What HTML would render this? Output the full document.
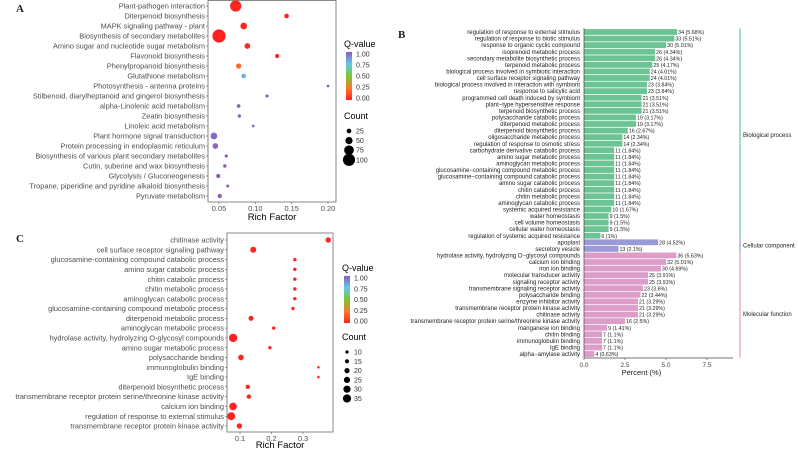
<!DOCTYPE html>
<html><head><meta charset="utf-8"><style>
body{margin:0;background:#fff}
svg{display:block;font-family:"Liberation Sans",sans-serif}
</style></head><body>
<svg id="fig" width="798" height="449" viewBox="0 0 798 449" xmlns="http://www.w3.org/2000/svg">
<g id="A"></g>
<g id="B"></g>
<g id="C"></g>
</svg>
<script>
// Panel A data
const aTerms=["Plant-pathogen interaction","Diterpenoid biosynthesis","MAPK signaling pathway - plant","Biosynthesis of secondary metabolites","Amino sugar and nucleotide sugar metabolism","Flavonoid biosynthesis","Phenylpropanoid biosynthesis","Glutathione metabolism","Photosynthesis - antenna proteins","Stilbenoid, diarylheptanoid and gingerol biosynthesis","alpha-Linolenic acid metabolism","Zeatin biosynthesis","Linoleic acid metabolism","Plant hormone signal transduction","Protein processing in endoplasmic reticulum","Biosynthesis of various plant secondary metabolites","Cutin, suberine and wax biosynthesis","Glycolysis / Gluconeogenesis","Tropane, piperidine and pyridine alkaloid biosynthesis","Pyruvate metabolism"];
const aRich=[0.073,0.143,0.084,0.05,0.089,0.13,0.077,0.084,0.2,0.116,0.077,0.078,0.097,0.043,0.045,0.06,0.058,0.049,0.062,0.051];
const aQ=[0.01,0.01,0.01,0.0,0.02,0.02,0.2,0.8,1,0.98,0.98,0.98,1,0.97,0.97,1,1,1,1,1];
const aCount=[90,25,45,110,35,20,30,25,5,10,15,12,5,45,35,10,12,20,8,20];
const aTicks=[0.05,0.10,0.15,0.20];
const aSizeLegend=[25,50,75,100];
// Panel C data
const cTerms=["chitinase activity","cell surface receptor signaling pathway","glucosamine-containing compound catabolic process","amino sugar catabolic process","chitin catabolic process","chitin metabolic process","aminoglycan catabolic process","glucosamine-containing compound metabolic process","diterpenoid metabolic process","aminoglycan metabolic process","hydrolase activity, hydrolyzing O-glycosyl compounds","amino sugar metabolic process","polysaccharide binding","immunoglobulin binding","IgE binding","diterpenoid biosynthetic process","transmembrane receptor protein serine/threonine kinase activity","calcium ion binding","regulation of response to external stimulus","transmembrane receptor protein kinase activity"];
const cRich=[0.38,0.142,0.274,0.274,0.274,0.274,0.274,0.268,0.135,0.207,0.078,0.195,0.103,0.349,0.349,0.125,0.128,0.078,0.072,0.098];
const cQ=[0.01,0.01,0.01,0.01,0.01,0.01,0.01,0.01,0.01,0.01,0.0,0.01,0.01,0.02,0.02,0.01,0.01,0.0,0.0,0.01];
const cCount=[21,24,11,11,11,11,11,11,19,11,36,11,22,7,7,16,16,32,34,21];
const cTicks=[0.1,0.2,0.3];
const cSizeLegend=[10,15,20,25,30,35];
// Panel B data
const bTerms=["regulation of response to external stimulus","regulation of response to biotic stimulus","response to organic cyclic compound","isoprenoid metabolic process","secondary metabolite biosynthetic process","terpenoid metabolic process","biological process involved in symbiotic interaction","cell surface receptor signaling pathway","biological process involved in interaction with symbiont","response to salicylic acid","programmed cell death induced by symbiont","plant\u2212type hypersensitive response","terpenoid biosynthetic process","polysaccharide catabolic process","diterpenoid metabolic process","diterpenoid biosynthetic process","oligosaccharide metabolic process","regulation of response to osmotic stress","carbohydrate derivative catabolic process","amino sugar metabolic process","aminoglycan metabolic process","glucosamine\u2212containing compound metabolic process","glucosamine\u2212containing compound catabolic process","amino sugar catabolic process","chitin catabolic process","chitin metabolic process","aminoglycan catabolic process","systemic acquired resistance","water homeostasis","cell volume homeostasis","cellular water homeostasis","regulation of systemic acquired resistance","apoplast","secretory vesicle","hydrolase activity, hydrolyzing O\u2212glycosyl compounds","calcium ion binding","iron ion binding","molecular transducer activity","signaling receptor activity","transmembrane signaling receptor activity","polysaccharide binding","enzyme inhibitor activity","transmembrane receptor protein kinase activity","chitinase activity","transmembrane receptor protein serine/threonine kinase activity","manganese ion binding","chitin binding","immunoglobulin binding","IgE binding","alpha\u2212amylase activity"];
const bCount=[34,33,30,26,26,25,24,24,23,23,21,21,21,19,19,16,14,14,11,11,11,11,11,11,11,11,11,10,9,9,9,6,28,13,36,32,30,25,25,23,22,21,21,21,16,9,7,7,7,4];
const bPct=["5.68","5.51","5.01","4.34","4.34","4.17","4.01","4.01","3.84","3.84","3.51","3.51","3.51","3.17","3.17","2.67","2.34","2.34","1.84","1.84","1.84","1.84","1.84","1.84","1.84","1.84","1.84","1.67","1.5","1.5","1.5","1","4.52","2.1","5.63","5.01","4.69","3.91","3.91","3.6","3.44","3.29","3.29","3.29","2.5","1.41","1.1","1.1","1.1","0.63"];
const bGroup=["BP","BP","BP","BP","BP","BP","BP","BP","BP","BP","BP","BP","BP","BP","BP","BP","BP","BP","BP","BP","BP","BP","BP","BP","BP","BP","BP","BP","BP","BP","BP","BP","CC","CC","MF","MF","MF","MF","MF","MF","MF","MF","MF","MF","MF","MF","MF","MF","MF","MF"];
const bTicks=[0,2.5,5,7.5];
const bTickLabels=["0.0","2.5","5.0","7.5"];
const groupNames={BP:"Biological process",CC:"Cellular component",MF:"Molecular function"};

const NS="http://www.w3.org/2000/svg";
function mk(parent,tag,attrs,text){const e=document.createElementNS(NS,tag);for(const k in attrs)e.setAttribute(k,attrs[k]);if(text!==undefined)e.textContent=text;parent.appendChild(e);return e;}
const stops=[[0,[255,34,30]],[0.25,[250,120,50]],[0.5,[120,200,50]],[0.75,[100,200,230]],[1,[140,90,190]]];
function qcol(q){for(let i=1;i<stops.length;i++){if(q<=stops[i][0]){const t=(q-stops[i-1][0])/(stops[i][0]-stops[i-1][0]);const a=stops[i-1][1],b=stops[i][1];return `rgb(${a.map((v,j)=>Math.round(v+(b[j]-v)*t)).join(',')})`;}}return 'rgb(140,90,190)';}

function dotPanel(g,opt){
  const {terms,rich,q,count,ticks,x0,x1,r0,r1,box,rowTop,rowBot,rfn,leg}=opt;
  const xs=v=>x0+(v-r0)*(x1-x0)/(r1-r0);
  const ys=i=>rowTop+i*(rowBot-rowTop)/(terms.length-1);
  let e=mk(g,'rect',{x:box[0],y:box[1],width:box[2]-box[0],height:box[3]-box[1],fill:'#fff',stroke:'#888','stroke-width':1});
  
  terms.forEach((t,i)=>{
    e=mk(g,'text',{x:box[0]-3,y:ys(i)+2.6,'text-anchor':'end','font-size':7.4,fill:'#4d4d4d'},t);
    
    e=mk(g,'line',{x1:box[0]-2,x2:box[0],y1:ys(i),y2:ys(i),stroke:'#555','stroke-width':0.6});
    
    e=mk(g,'circle',{cx:xs(rich[i]),cy:ys(i),r:rfn(count[i]),fill:qcol(q[i])});
    
  });
  ticks.forEach(t=>{
    e=mk(g,'line',{x1:xs(t),x2:xs(t),y1:box[3],y2:box[3]+2,stroke:'#555','stroke-width':0.6});
    
    e=mk(g,'text',{x:xs(t),y:box[3]+9,'text-anchor':'middle','font-size':7.4,fill:'#4d4d4d'},t.toFixed(opt.dec));
    
  });
  e=mk(g,'text',{x:(box[0]+box[2])/2,y:box[3]+opt.titleOff,'text-anchor':'middle','font-size':9.5,fill:'#000'},'Rich Factor');
  
  const L=leg;
  e=mk(g,'text',{x:L.x-2,y:L.qy,'font-size':9,fill:'#000'},'Q-value');
  
  const gid='grad'+opt.id;
  const defs=mk(g,'defs',{});const lg=mk(defs,'linearGradient',{id:gid,x1:0,y1:1,x2:0,y2:0});
  stops.forEach(s=>mk(lg,'stop',{offset:s[0],'stop-color':qcol(s[0])}));
  e=mk(g,'rect',{x:L.x,y:L.cbTop,width:6,height:L.cbBot-L.cbTop,fill:`url(#${gid})`});
  
  ["1.00","0.75","0.50","0.25","0.00"].forEach((s,i)=>{
    const y=L.cbTop+2+i*(L.cbBot-L.cbTop-4)/4;
    e=mk(g,'text',{x:L.x+10,y:y+2.5,'font-size':7,fill:'#333'},s);
    
  });
  e=mk(g,'text',{x:L.x-2,y:L.cy,'font-size':9,fill:'#000'},'Count');
  
  L.sizes.forEach((s,i)=>{
    const y=L.cy+12+i*L.step;
    e=mk(g,'circle',{cx:L.x+3,cy:y,r:rfn(s),fill:'#000'});
    
    e=mk(g,'text',{x:L.x+10,y:y+2.5,'font-size':7,fill:'#333'},s);
    
  });
}
const A=document.getElementById('A');
dotPanel(A,{id:'A',terms:aTerms,rich:aRich,q:aQ,count:aCount,ticks:aTicks,dec:2,x0:219,x1:328,r0:0.05,r1:0.20,box:[208,0.5,336,202],rowTop:6,rowBot:196,rfn:c=>1.1+0.05*c,titleOff:18,
  leg:{x:346,qy:47,cbTop:52,cbBot:100,cy:119,step:9.6,sizes:aSizeLegend}});
const C=document.getElementById('C');
dotPanel(C,{id:'C',terms:cTerms,rich:cRich,q:cQ,count:cCount,ticks:cTicks,dec:1,x0:240,x1:303,r0:0.1,r1:0.3,box:[227,233,333,432],rowTop:240,rowBot:426,rfn:c=>0.6+0.1*c,titleOff:16,
  leg:{x:344,qy:271,cbTop:276,cbBot:323,cy:340,step:9.3,sizes:cSizeLegend}});
let e;
e=mk(A,'text',{x:16,y:12,'font-size':11,'font-family':'Liberation Serif, serif','font-weight':'bold',fill:'#222'},'A');

e=mk(C,'text',{x:16,y:242,'font-size':11,'font-family':'Liberation Serif, serif','font-weight':'bold',fill:'#222'},'C');


// Panel B
const B=document.getElementById('B');
const bx0=584,bpx=16.4,bTop=32,bBot=354,axisY=358;
const bcol={BP:'#6cc494',CC:'#9a9ad6',MF:'#dd9dc9'};
const xb=v=>bx0+v*bpx, yb=i=>bTop+i*(bBot-bTop)/(bTerms.length-1);
e=mk(B,'text',{x:398,y:38,'font-size':11,'font-family':'Liberation Serif, serif','font-weight':'bold',fill:'#222'},'B');

bTerms.forEach((t,i)=>{
  const y=yb(i),p=parseFloat(bPct[i]);
  e=mk(B,'rect',{x:bx0,y:y-2.9,width:xb(p)-bx0,height:5.8,fill:bcol[bGroup[i]]});
  
  e=mk(B,'text',{x:bx0-4,y:y+2.1,'text-anchor':'end','font-size':6,fill:'#222'},t);
  
  e=mk(B,'text',{x:xb(p)+1,y:y+2.1,'font-size':5.3,fill:'#222'},`${bCount[i]} (${bPct[i]}%)`);
  
});
e=mk(B,'line',{x1:bx0,x2:bx0,y1:28,y2:axisY,stroke:'#444','stroke-width':0.7});

e=mk(B,'line',{x1:bx0,x2:733,y1:axisY,y2:axisY,stroke:'#444','stroke-width':0.7});

bTicks.forEach((t,i)=>{
  e=mk(B,'line',{x1:xb(t),x2:xb(t),y1:axisY,y2:axisY+2,stroke:'#444','stroke-width':0.6});
  
  e=mk(B,'text',{x:xb(t),y:axisY+9,'text-anchor':'middle','font-size':6.5,fill:'#444'},bTickLabels[i]);
  
});
e=mk(B,'text',{x:xb(3.5),y:375,'text-anchor':'middle','font-size':7.5,fill:'#222'},'Percent (%)');

['BP','CC','MF'].forEach(gk=>{
  const idx=bGroup.map((g,i)=>g===gk?i:-1).filter(i=>i>=0);
  const y1=yb(idx[0])-3.5,y2=yb(idx[idx.length-1])+3.5;
  e=mk(B,'line',{x1:740,x2:740,y1:y1,y2:y2,stroke:bcol[gk],'stroke-width':1.2});
  
  const ym=gk==='BP'?135:gk==='CC'?(y1+y2)/2:314;
  e=mk(B,'text',{x:743,y:ym+2,'font-size':6,fill:'#222'},groupNames[gk]);
  
});
</script>
</body></html>
